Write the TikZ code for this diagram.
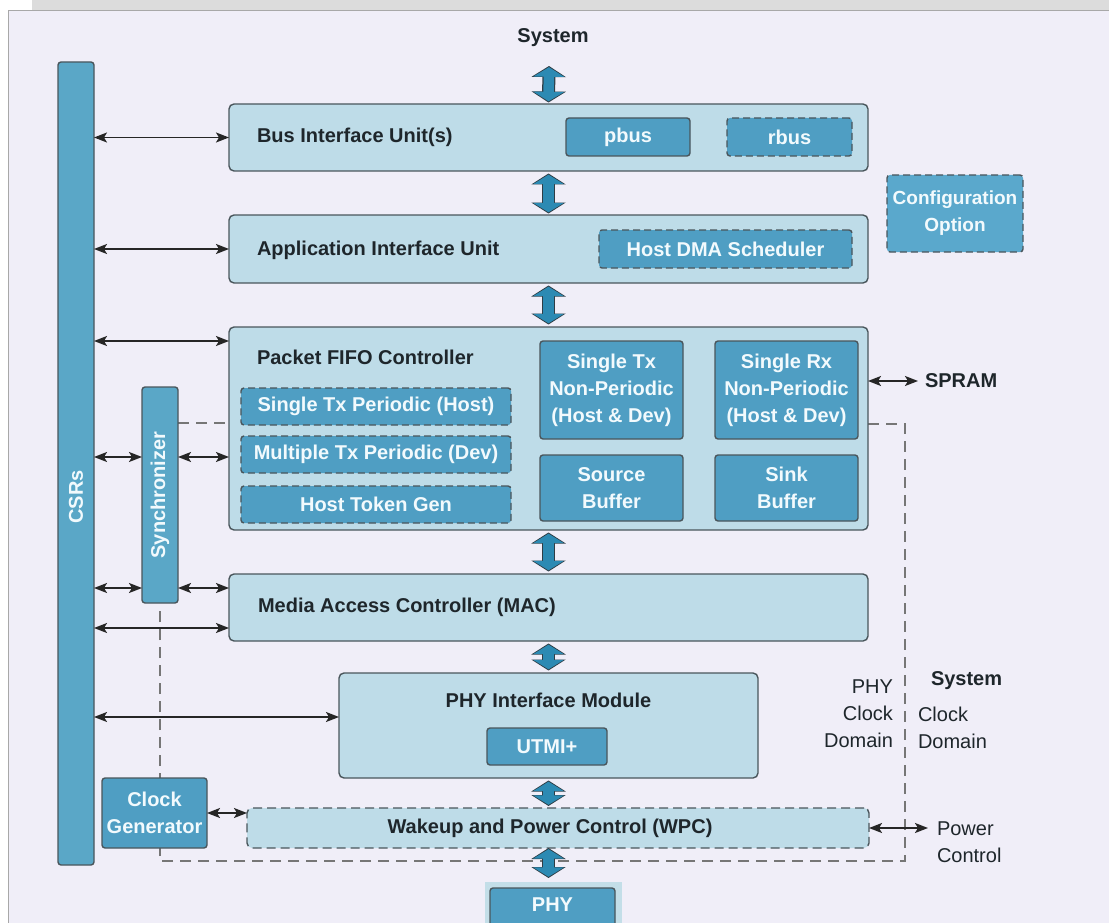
\documentclass[tikz,border=0pt]{standalone}
\usepackage{fontspec}
\setmainfont{Liberation Sans}
\usetikzlibrary{arrows.meta,calc}
\definecolor{bg}{HTML}{F0EEF8}
\definecolor{band}{HTML}{DCDCDC}
\definecolor{panelline}{HTML}{A8A8A8}
\definecolor{boxfill}{HTML}{BEDCE8}
\definecolor{edge}{HTML}{4A565C}
\definecolor{darkfill}{HTML}{4F9EC3}
\definecolor{csrfill}{HTML}{5AA7C7}
\definecolor{cfgfill}{HTML}{5AA8CC}
\definecolor{wtext}{HTML}{F2FAFD}
\definecolor{ktext}{HTML}{1E262B}
\definecolor{arrfill}{HTML}{2C8AB3}
\definecolor{arredge}{HTML}{2E3D45}
\definecolor{domline}{HTML}{767676}
\definecolor{phybgc}{HTML}{C3DEE8}
\newcommand\fsz{\fontsize{20}{27}\selectfont}
\newcommand\fatarrow[2]{%
  \draw[line width=13pt, draw=arredge, {Triangle[width=34pt,length=11pt]}-{Triangle[width=34pt,length=11pt]}] #1 -- #2;
  \draw[line width=10.5pt, draw=arrfill, {Triangle[width=30.5pt,length=9.5pt]}-{Triangle[width=30.5pt,length=9.5pt]}, shorten <=1.2pt, shorten >=1.2pt] #1 -- #2;}
\begin{document}
\begin{tikzpicture}[x=1pt,y=-1pt,
  every node/.style={inner sep=0pt, outer sep=0pt},
  bigbox/.style={draw=edge, fill=boxfill, line width=1.4pt, rounded corners=5pt},
  darkbox/.style={draw=edge, fill=darkfill, line width=1.4pt, rounded corners=3pt,
     text=wtext, font=\fsz\bfseries, align=center},
  dashbox/.style={darkbox, dash pattern=on 7pt off 4pt},
  title/.style={text=ktext, font=\fsz\bfseries, anchor=west},
  plain/.style={text=ktext, font=\fsz},
  conn/.style={draw=black!85, line width=1.8pt, {Stealth[length=13pt,width=10pt,inset=3pt]}-{Stealth[length=13pt,width=10pt,inset=3pt]}},
  thinconn/.style={conn, line width=1.3pt},
  dom/.style={draw=domline, line width=1.5pt, dash pattern=on 11pt off 7pt}
]
\useasboundingbox (0,0) rectangle (1109,923);
\clip (0,0) rectangle (1109,923);
% background
\fill[white] (0,0) rectangle (1109,923);
\fill[band] (32,0) rectangle (1109,11);
\draw[fill=bg, draw=panelline, line width=1pt] (8,11) rectangle (1112,930);

% ---- domain boundary (behind everything)
\coordinate (d0) at (868,424);
\coordinate (d1) at (905,424);
\coordinate (d2) at (905,861);
\coordinate (d3) at (160,861);
\coordinate (d4) at (160,608);
\coordinate (s0) at (178,423);
\coordinate (s1) at (229,423);
\draw[dom] (d0) -- (d1) -- (d2) -- (d3) -- (d4);
\draw[dom] (s0) -- (s1);

% ---- boxes
\node[bigbox, minimum width=639pt, minimum height=67pt] (biu) at (548.5,137.5) {};
\node[title] (biut) at (257,137) {Bus Interface Unit(s)};
\node[darkbox, minimum width=124pt, minimum height=38pt] (pbus) at (628,137) {pbus};
\node[dashbox, minimum width=125pt, minimum height=38pt] (rbus) at (789.5,137) {rbus};

\node[bigbox, minimum width=639pt, minimum height=68pt] (aiu) at (548.5,249) {};
\node[title] (aiut) at (257,250) {Application Interface Unit};
\node[dashbox, minimum width=253pt, minimum height=38pt] (hdma) at (725.5,249) {Host DMA Scheduler};

\node[dashbox, fill=cfgfill, minimum width=136pt, minimum height=77pt, font=\fontsize{19}{27}\selectfont\bfseries] (cfg) at (955,213.5) {Configuration\\Option};

\node[bigbox, minimum width=639pt, minimum height=203pt] (pfc) at (548.5,428.5) {};
\node[title] (pfct) at (257,357) {Packet FIFO Controller};
\node[dashbox, minimum width=270pt, minimum height=37pt] (stp) at (376,406.5) {Single Tx Periodic (Host)};
\node[dashbox, minimum width=270pt, minimum height=37pt] (mtp) at (376,454.5) {Multiple Tx Periodic (Dev)};
\node[dashbox, minimum width=270pt, minimum height=37pt] (htg) at (376,504.5) {Host Token Gen};
\node[darkbox, minimum width=143pt, minimum height=98pt] (stnp) at (611.5,390) {Single Tx\\Non-Periodic\\(Host \& Dev)};
\node[darkbox, minimum width=143pt, minimum height=98pt] (srnp) at (786.5,390) {Single Rx\\Non-Periodic\\(Host \& Dev)};
\node[darkbox, minimum width=143pt, minimum height=66pt] (src) at (611.5,488) {Source\\Buffer};
\node[darkbox, minimum width=143pt, minimum height=66pt] (sink) at (786.5,488) {Sink\\Buffer};

\node[bigbox, minimum width=639pt, minimum height=67pt] (mac) at (548.5,607.5) {};
\node[title] (mact) at (258,607) {Media Access Controller (MAC)};

\node[bigbox, minimum width=419pt, minimum height=105pt] (phyim) at (548.5,725.5) {};
\node[text=ktext, font=\fsz\bfseries] (phyimt) at (548.5,700) {PHY Interface Module};
\node[darkbox, minimum width=120pt, minimum height=37pt] (utmi) at (547,746.5) {UTMI+};

\node[bigbox, dash pattern=on 9pt off 5pt, minimum width=622pt, minimum height=40pt] (wpc) at (558,828) {};
\node[text=ktext, font=\fsz\bfseries] (wpct) at (550,828) {Wakeup and Power Control (WPC)};

\node[darkbox, minimum width=105pt, minimum height=70pt] (clk) at (154.5,813) {Clock\\Generator};

\node[darkbox, fill=csrfill, minimum width=36pt, minimum height=803pt] (csr) at (76,463.5) {};
\node[text=wtext, font=\fsz\bfseries, rotate=90] (csrt) at (76,497) {CSRs};
\node[darkbox, fill=csrfill, minimum width=36pt, minimum height=216pt] (sync) at (160,495) {};
\node[text=wtext, font=\fsz\bfseries, rotate=90] (synct) at (160,495) {Synchronizer};

\node[fill=phybgc, minimum width=137pt, minimum height=60pt] (phybg) at (553.5,912) {};
\node[darkbox, minimum width=125pt, minimum height=60pt] (phy) at (552.5,918) {};
\node[text=wtext, font=\fsz\bfseries] (phyt) at (552.5,905) {PHY};

% ---- labels
\node[text=ktext, font=\fsz\bfseries] (sys) at (553,38) {System};
\node[text=ktext, font=\fsz\bfseries, anchor=west] (spram) at (925,381) {SPRAM};
\node[plain, anchor=east, align=right] (phyclk) at (893,714) {PHY\\Clock\\Domain};
\node[text=ktext, font=\fsz\bfseries, anchor=west] (syst2) at (931,681) {System};
\node[plain, anchor=west, align=left] (sysclk) at (918,728) {Clock\\Domain};
\node[plain, anchor=west, align=left] (pwr) at (937,842) {Power\\Control};

% ---- thin connectors
\coordinate (spr) at (918,381);
\coordinate (pwrc) at (928,828);
\draw[thinconn] (csr.east |- biu.west) -- (biu.west);
\draw[conn] (csr.east |- aiu.west) -- (aiu.west);
\draw[conn] (csr.east |- 0,341) -- (pfc.west |- 0,341);
\draw[conn] (csr.east |- 0,457) -- (sync.west |- 0,457);
\draw[conn] (sync.east |- 0,457) -- (pfc.west |- 0,457);
\draw[conn] (csr.east |- 0,588) -- (sync.west |- 0,588);
\draw[conn] (sync.east |- 0,588) -- (mac.west |- 0,588);
\draw[conn] (csr.east |- 0,628) -- (mac.west |- 0,628);
\draw[conn] (csr.east |- 0,717) -- (phyim.west |- 0,717);
\draw[conn] (pfc.east |- spr) -- (spr);
\draw[conn] (clk.east) -- (wpc.west |- clk.east);
\draw[conn] (wpc.east) -- (pwrc);

% ---- thick bus arrows
\coordinate (top) at (549,66);
\fatarrow{(top)}{($(biu.north)+(0,-1.5)$)}
\fatarrow{($(biu.south)+(0,2.5)$)}{($(aiu.north)+(0,-1.5)$)}
\fatarrow{($(aiu.south)+(0,2.5)$)}{($(pfc.north)+(0,-2.5)$)}
\fatarrow{($(pfc.south)+(0,2.5)$)}{($(mac.north)+(0,-2.5)$)}
\fatarrow{($(mac.south)+(0,2.5)$)}{($(phyim.north)+(0,-2.5)$)}
\fatarrow{($(phyim.south)+(0,2.5)$)}{($(phyim.south |- wpc.north)+(0,-2)$)}
\fatarrow{($(phyim.south |- wpc.south)+(0,0)$)}{($(phyim.south |- phybg.north)+(0,-4)$)}
\end{tikzpicture}
\end{document}
